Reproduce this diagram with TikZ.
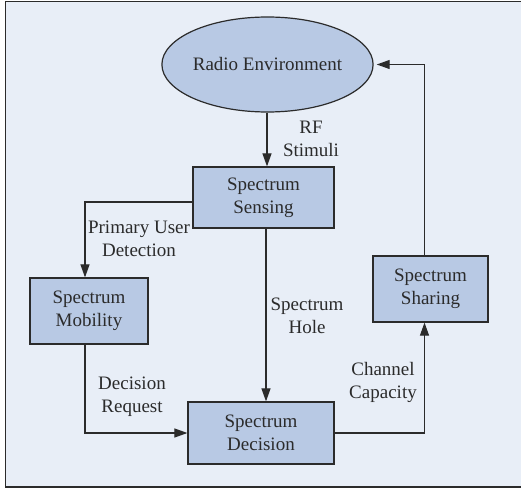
\documentclass[tikz,border=0pt]{standalone}
\usepackage{fontspec}
\setmainfont{Liberation Serif}
\usetikzlibrary{shapes,arrows.meta,positioning}
\definecolor{bgblue}{HTML}{E8EEF7}
\definecolor{boxblue}{HTML}{B8C9E4}
\definecolor{inkgrey}{HTML}{2B2B2B}
\tikzstyle{block} = [draw=inkgrey,fill=boxblue,line width=1.2pt,align=center,inner sep=0pt,text=inkgrey]
\tikzstyle{arrow} = [line width=1.1pt,draw=inkgrey,-{Triangle[length=13pt,width=9pt]}]
\tikzstyle{note} = [align=center,text=inkgrey]

\begin{document}
\begin{tikzpicture}[x=1pt,y=-1pt,font=\fontsize{19}{23}\selectfont]
  \useasboundingbox (0,0) rectangle (521,489);
  \draw[fill=bgblue,draw=inkgrey,line width=1.5pt] (5.5,1.5) rectangle (530,487);
  \node[block,ellipse,minimum width=179,minimum height=95] (env) at (267.5,64.5) {Radio Environment};
  \node[block,minimum width=141,minimum height=61] (sensing) at (263.5,197.5) {Spectrum\\Sensing};
  \node[block,minimum width=118,minimum height=66] (mobility) at (89,311) {Spectrum\\Mobility};
  \node[block,minimum width=146,minimum height=62] (decision) at (261,433) {Spectrum\\Decision};
  \node[block,minimum width=115,minimum height=66] (sharing) at (430.5,289) {Spectrum\\Sharing};
  \draw[arrow] (env.south -| 267,0) -- (sensing.north -| 267,0);
  \draw[arrow] ([yshift=-4.5]sensing.west) -| ([xshift=-4]mobility.north);
  \draw[arrow] ([xshift=-4]mobility.south) |- (decision.west);
  \draw[arrow] ([xshift=2.5]sensing.south) -- ([xshift=2.5]sensing.south |- decision.north);
  \draw[arrow] (decision.east) -| ([xshift=-6]sharing.south);
  \draw[arrow] ([xshift=-6]sharing.north) |- ([xshift=3]env.east);
  \node[note] (rf) at (311,138.5) {RF\\Stimuli};
  \node[note] (pud) at (139,238.5) {Primary User\\Detection};
  \node[note] (hole) at (307,315.5) {Spectrum\\Hole};
  \node[note] (cap) at (383,382.5) {Channel\\Capacity};
  \node[note] (req) at (132,397) {Decision\\Request};
\end{tikzpicture}
\end{document}
